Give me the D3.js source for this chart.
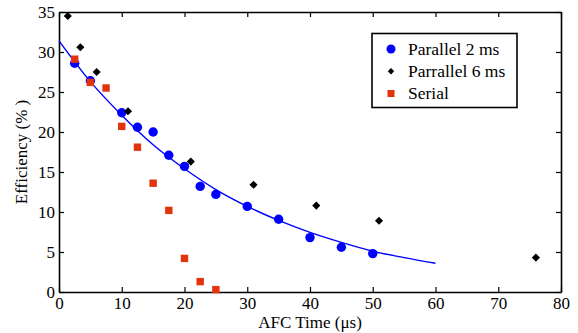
<!DOCTYPE html>
<html>
<head>
<meta charset="utf-8">
<script src="https://cdn.jsdelivr.net/npm/d3@7"></script>
<style>
  html, body { margin: 0; padding: 0; background: #fff; }
  svg text { font-family: "Liberation Serif", "Times New Roman", serif; }
</style>
</head>
<body>
<div id="chart"></div>
<script>
// Parallel 2 ms (blue circles)
const par2X = [2.5, 5, 10, 12.5, 15, 17.5, 20, 22.5, 25, 30, 35, 40, 45, 50];
const par2Y = [28.6, 26.4, 22.4, 20.6, 20.0, 17.1, 15.7, 13.2, 12.2, 10.7, 9.1, 6.8, 5.6, 4.8];

// Parrallel 6 ms (black diamonds)
const par6X = [1.4, 3.4, 6, 11, 21, 31, 41, 51, 76];
const par6Y = [34.5, 30.6, 27.5, 22.6, 16.3, 13.4, 10.8, 8.9, 4.3];

// Serial (red squares)
const serX = [2.5, 5, 7.5, 10, 12.5, 15, 17.5, 20, 22.5, 25];
const serY = [29.1, 26.2, 25.5, 20.7, 18.1, 13.6, 10.2, 4.2, 1.3, 0.3];

// fitted curve
const fitX = [0, 5, 10, 15, 20, 25, 30, 35, 40, 45, 50, 55, 60];
const fitY = [31.4, 26.3, 22.1, 18.4, 15.4, 12.8, 10.7, 8.95, 7.45, 6.2, 5.1, 4.3, 3.6];

const xTicks = [0, 10, 20, 30, 40, 50, 60, 70, 80];
const yTicks = [0, 5, 10, 15, 20, 25, 30, 35];

const legendLabels = ['Parallel 2 ms', 'Parrallel 6 ms', 'Serial'];

const width = 578, height = 333;
const margin = { left: 59, right: 561, top: 12, bottom: 292 };
const BLUE = '#0000ff', RED = '#e2330f';

const svg = d3.select('#chart').append('svg')
  .attr('width', width)
  .attr('height', height);

const x = d3.scaleLinear().domain([0, 80]).range([margin.left, margin.right]);
const y = d3.scaleLinear().domain([0, 35]).range([margin.bottom, margin.top]);

// axes, ticks pointing inward
const fontSize = 17;
svg.append('g')
  .attr('transform', `translate(0,${margin.bottom})`)
  .call(d3.axisBottom(x).tickValues(xTicks).tickSizeInner(-5).tickSizeOuter(0).tickPadding(5))
  .call(g => g.selectAll('text').attr('font-size', fontSize).attr('fill', '#000'));

svg.append('g')
  .attr('transform', `translate(${margin.left},0)`)
  .call(d3.axisLeft(y).tickValues(yTicks).tickSizeInner(-5).tickSizeOuter(0).tickPadding(4))
  .call(g => g.selectAll('text').attr('font-size', fontSize).attr('fill', '#000'));

svg.append('g')
  .attr('transform', `translate(0,${margin.top})`)
  .call(d3.axisTop(x).tickValues(xTicks).tickSizeInner(-5).tickSizeOuter(0).tickFormat(''));

svg.append('g')
  .attr('transform', `translate(${margin.right},0)`)
  .call(d3.axisRight(y).tickValues(yTicks).tickSizeInner(-5).tickSizeOuter(0).tickFormat(''));

svg.selectAll('.domain').attr('stroke', '#000').attr('stroke-width', 1.6);
svg.selectAll('.tick line').attr('stroke', '#000').attr('stroke-width', 1.2);

// axis titles
svg.append('text')
  .attr('x', (margin.left + margin.right) / 2)
  .attr('y', 328)
  .attr('text-anchor', 'middle')
  .attr('font-size', fontSize)
  .text('AFC Time (\u03bcs)');

svg.append('text')
  .attr('transform', `translate(27,${(margin.top + margin.bottom) / 2}) rotate(-90)`)
  .attr('text-anchor', 'middle')
  .attr('font-size', fontSize)
  .text('Efficiency (% )');

// fit line
const fitData = fitX.map((d, i) => [d, fitY[i]]);
svg.append('path')
  .datum(fitData)
  .attr('fill', 'none')
  .attr('stroke', BLUE)
  .attr('stroke-width', 1.4)
  .attr('d', d3.line().x(d => x(d[0])).y(d => y(d[1])).curve(d3.curveMonotoneX));

const diamond = d3.symbol().type(d3.symbolDiamond2);

// markers
svg.append('g').selectAll('circle')
  .data(par2X.map((d, i) => [d, par2Y[i]]))
  .join('circle')
  .attr('cx', d => x(d[0]))
  .attr('cy', d => y(d[1]))
  .attr('r', 4.7)
  .attr('fill', BLUE);

svg.append('g').selectAll('path')
  .data(par6X.map((d, i) => [d, par6Y[i]]))
  .join('path')
  .attr('transform', d => `translate(${x(d[0])},${y(d[1])})`)
  .attr('d', diamond.size(42))
  .attr('fill', '#000');

svg.append('g').selectAll('rect')
  .data(serX.map((d, i) => [d, serY[i]]))
  .join('rect')
  .attr('x', d => x(d[0]) - 3.7)
  .attr('y', d => y(d[1]) - 3.7)
  .attr('width', 7.4)
  .attr('height', 7.4)
  .attr('fill', RED);

// legend
const legend = svg.append('g').attr('transform', 'translate(372,33.5)');
legend.append('rect')
  .attr('width', 145)
  .attr('height', 74)
  .attr('fill', '#fff')
  .attr('stroke', '#000')
  .attr('stroke-width', 1.6);

const rowY = d3.scalePoint().domain(legendLabels).range([15.5, 60]);
const rows = legend.selectAll('g.row')
  .data(legendLabels)
  .join('g')
  .attr('class', 'row')
  .attr('transform', d => `translate(0,${rowY(d)})`);

rows.filter((d, i) => i === 0).append('circle')
  .attr('cx', 19).attr('r', 4.5).attr('fill', BLUE);
rows.filter((d, i) => i === 1).append('path')
  .attr('transform', 'translate(19,0)')
  .attr('d', diamond.size(26)).attr('fill', '#000');
rows.filter((d, i) => i === 2).append('rect')
  .attr('x', 15.5).attr('y', -3.5).attr('width', 7).attr('height', 7).attr('fill', RED);

rows.append('text')
  .attr('x', 36)
  .attr('dy', '0.33em')
  .attr('font-size', 17.5)
  .text(d => d);
</script>
</body>
</html>
